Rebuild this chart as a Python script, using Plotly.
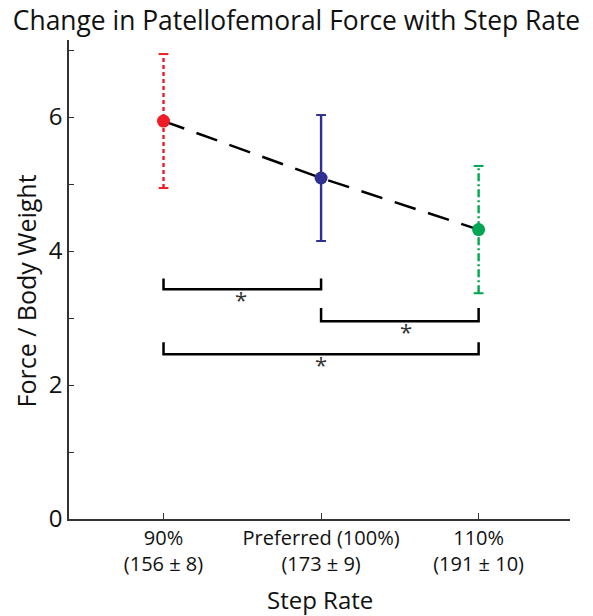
import plotly.graph_objects as go

# Data
categories = [1, 2, 3]
tick_labels = ["90%<br>(156 ± 8)", "Preferred (100%)<br>(173 ± 9)", "110%<br>(191 ± 10)"]
means = [5.94, 5.09, 4.32]
sds = [1.00, 0.94, 0.95]
colors = ["#ee1c25", "#2e3192", "#00a651"]
dashes = ["4px,3px", "solid", "8px,3px,2px,3px"]

# significance brackets: (x_start, x_end, bar level, tick top)
brackets = [(1, 2, 3.43, 3.59), (2, 3, 2.95, 3.15), (1, 3, 2.46, 2.64)]
star_x = [1.49, 2.54, 2.0]

font = "Open Sans"
fig = go.Figure()

# mean connecting line
fig.add_trace(go.Scatter(x=categories, y=means, mode="lines",
                         line=dict(color="black", width=2.5, dash="22px,13px"),
                         showlegend=False, hoverinfo="skip"))

for i, x in enumerate(categories):
    lo, hi = means[i] - sds[i], means[i] + sds[i]
    fig.add_trace(go.Scatter(x=[x, x], y=[lo, hi], mode="lines",
                             line=dict(color=colors[i], width=2.4, dash=dashes[i]),
                             showlegend=False, hoverinfo="skip"))
    fig.add_trace(go.Scatter(x=[x, x], y=[lo, hi], mode="markers",
                             marker=dict(symbol="line-ew", size=7,
                                         line=dict(color=colors[i], width=2)),
                             showlegend=False, hoverinfo="skip"))
    fig.add_trace(go.Scatter(x=[x], y=[means[i]], mode="markers",
                             marker=dict(color=colors[i], size=13),
                             showlegend=False))

for (x0, x1, lvl, top), sx in zip(brackets, star_x):
    fig.add_trace(go.Scatter(x=[x0, x0, x1, x1], y=[top, lvl, lvl, top], mode="lines",
                             line=dict(color="black", width=2.5),
                             showlegend=False, hoverinfo="skip"))
    fig.add_annotation(x=sx, y=lvl, text="*", showarrow=False, yanchor="top",
                       yshift=7, font=dict(size=22, color="#333", family=font))

# axis titles as paper annotations
fig.add_annotation(xref="paper", yref="paper", x=0, y=0.5, xanchor="center", yanchor="middle",
                   xshift=-44, yshift=-12, text="Force / Body Weight", textangle=-90, showarrow=False,
                   font=dict(size=25, color="#111", family=font))
fig.add_annotation(xref="paper", yref="paper", x=0.5, y=0, yanchor="middle", xanchor="center",
                   yshift=-80, text="Step Rate", showarrow=False,
                   font=dict(size=24, color="#111", family=font))

fig.update_layout(
    width=593, height=616,
    margin=dict(l=69, r=23, t=40, b=97, autoexpand=False),
    paper_bgcolor="white", plot_bgcolor="white",
    font=dict(family=font, color="#222", size=20),
    title=dict(text="Change in Patellofemoral Force with Step Rate", x=0.5, xanchor="center",
               y=0.967, yanchor="middle", font=dict(size=26.4, color="#111")),
    xaxis=dict(range=[0.4, 3.58], tickvals=categories, ticktext=tick_labels,
               ticks="inside", ticklen=6, tickcolor="#333", showline=True, linecolor="#333",
               linewidth=1.5, showgrid=False, zeroline=False, automargin=False,
               tickfont=dict(size=20, color="#111")),
    yaxis=dict(range=[0, 7.15], tickvals=[0, 1, 2, 3, 4, 5, 6, 7],
               ticktext=["0", "", "2", "", "4", "", "6", ""],
               ticks="inside", ticklen=5, tickcolor="#333", showline=True, linecolor="#333",
               linewidth=1.5, showgrid=False, zeroline=False, automargin=False,
               tickfont=dict(size=24, color="#111")),
)

fig.write_html("out.html", config={"displayModeBar": False},
               post_script="document.body.style.margin='0';")
